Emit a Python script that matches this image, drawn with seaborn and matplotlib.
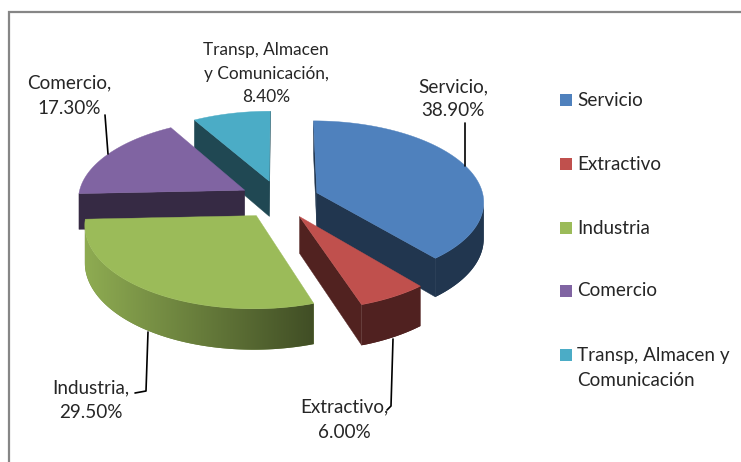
import numpy as np
import matplotlib
matplotlib.use("Agg")
import matplotlib.pyplot as plt
from matplotlib.patches import Rectangle, Polygon
from matplotlib.colors import to_rgb
import seaborn as sns

# ---- data ----
categories = ["Servicio", "Extractivo", "Industria", "Comercio", "Transp, Almacen y Comunicación"]
values = [38.9, 6.0, 29.5, 17.3, 8.4]
value_labels = ["38.90%", "6.00%", "29.50%", "17.30%", "8.40%"]
colors = ["#4F81BD", "#C0504D", "#9BBB59", "#8064A2", "#4BACC6"]

sns.set_theme(style="white")
plt.rcParams["font.family"] = ["Lato", "DejaVu Sans"]
palette = sns.color_palette(colors)

W, H = 741, 462
fig = plt.figure(figsize=(W / 100, H / 100), dpi=100, facecolor="white")
ax = fig.add_axes([0, 0, 1, 1])
ax.set_xlim(0, W)
ax.set_ylim(H, 0)
ax.axis("off")

# projection of the tilted, exploded disc
CX, CY, RX, RY, K, DEPTH, EXPLODE = 279.5, 199.4, 167.0, 80.4, 0.1, 36.0, 0.24


def project(u, v):
    w = 1.0 / (1.0 + K * v)
    return CX + RX * u * w, CY - RY * v * w


def depth_at(v):
    return DEPTH / (1.0 + K * v)


def rim_factor(x):
    return np.clip(0.92 - (x - 84.0) / 228.0 * 0.5, 0.42, 0.92)


CUT_FACTOR = 0.42
edges = np.concatenate([[0.0], np.cumsum(values)]) / np.sum(values) * 2 * np.pi
order = [4, 3, 0, 2, 1]  # back to front
z = 2.0

for i in order:
    a0, a1 = edges[i], edges[i + 1]
    mid = (a0 + a1) / 2
    u0, v0 = EXPLODE * np.sin(mid), EXPLODE * np.cos(mid)
    th = np.linspace(a0, a1, max(int(np.degrees(a1 - a0)) * 2, 8))
    us = np.concatenate([[u0], u0 + np.sin(th)])
    vs = np.concatenate([[v0], v0 + np.cos(th)])
    xs, ys = project(us, vs)
    rgb = np.array(to_rgb(palette[i]))
    n = len(xs)

    # straight cut faces: polygon edges running leftwards on screen face the viewer
    for j, k in [(0, 1), (n - 1, 0)]:
        if xs[k] - xs[j] < 0:
            col = tuple(rgb * CUT_FACTOR)
            ax.fill([xs[j], xs[k], xs[k], xs[j]],
                    [ys[j], ys[k], ys[k] + depth_at(vs[k]), ys[j] + depth_at(vs[j])],
                    color=col, lw=0.3, ec=col, zorder=z)

    # curved rim with a horizontal gradient
    idx = [j for j in range(1, n - 1) if xs[j + 1] < xs[j]]
    if idx:
        run = idx + [idx[-1] + 1]
        rx_, ry_ = xs[run], ys[run]
        bottom = ry_ + depth_at(vs[run])
        poly_xy = np.column_stack([np.r_[rx_, rx_[::-1]], np.r_[ry_, bottom[::-1]]])
        base = tuple(rgb * float(rim_factor(rx_.mean())))
        ax.add_patch(Polygon(poly_xy, closed=True, fc=base, ec="none", zorder=z))
        clip = Polygon(poly_xy, closed=True, transform=ax.transData)
        gx = np.linspace(rx_.min(), rx_.max(), 256)
        img = np.clip(rim_factor(gx)[None, :, None] * rgb[None, None, :], 0, 1)
        im = ax.imshow(img, extent=(gx[0], gx[-1], bottom.max(), ry_.min()),
                       aspect="auto", zorder=z + 0.01, interpolation="bilinear")
        im.set_clip_path(clip)

    ax.fill(xs, ys, color=tuple(rgb), lw=0.3, ec=tuple(rgb), zorder=z + 0.02)
    z += 0.1

ax.set_xlim(0, W)
ax.set_ylim(H, 0)

# frame of the chart area (only left and top are inside the crop)
ax.plot([9, 9, W], [H, 12, 12], color="#868686", lw=1.6, zorder=1, solid_joinstyle="miter")

TEXT = "#262626"
FS = 13.6
LINE = dict(color="black", lw=1.2, zorder=5)


def label(x, ys_, lines, fs=FS):
    for y, s in zip(ys_, lines):
        ax.text(x, y, s, ha="center", va="center", fontsize=fs, color=TEXT, zorder=6)


label(453, [87, 111], [categories[0] + ",", value_labels[0]])
label(344, [407, 432], [categories[1] + ",", value_labels[1]])
label(91, [388, 413], [categories[2] + ",", value_labels[2]])
label(69, [83, 109], [categories[3] + ",", value_labels[3]])
label(266, [50, 74, 97], ["Transp, Almacen", "y Comunicación,", value_labels[4]], fs=12.4)

# leader lines
ax.plot([465, 465], [123, 166], **LINE)
ax.plot([393, 391, 387], [339, 406, 410], **LINE)
ax.plot([148, 146, 135], [332, 391, 393], **LINE)
ax.plot([105, 108], [115, 154], **LINE)

# legend
legend_y = [100, 164, 228, 291, 355]
for y, name, c in zip(legend_y, categories, palette):
    ax.add_patch(Rectangle((560, y - 6), 12, 12, facecolor=c, edgecolor="none", zorder=6))
    if name.startswith("Transp"):
        ax.text(577, y, "Transp, Almacen y", va="center", ha="left", fontsize=FS, color=TEXT, zorder=6)
        ax.text(577, y + 25, "Comunicación", va="center", ha="left", fontsize=FS, color=TEXT, zorder=6)
    else:
        ax.text(577, y, name, va="center", ha="left", fontsize=FS, color=TEXT, zorder=6)

fig.savefig("out.png", dpi=100, facecolor="white")
